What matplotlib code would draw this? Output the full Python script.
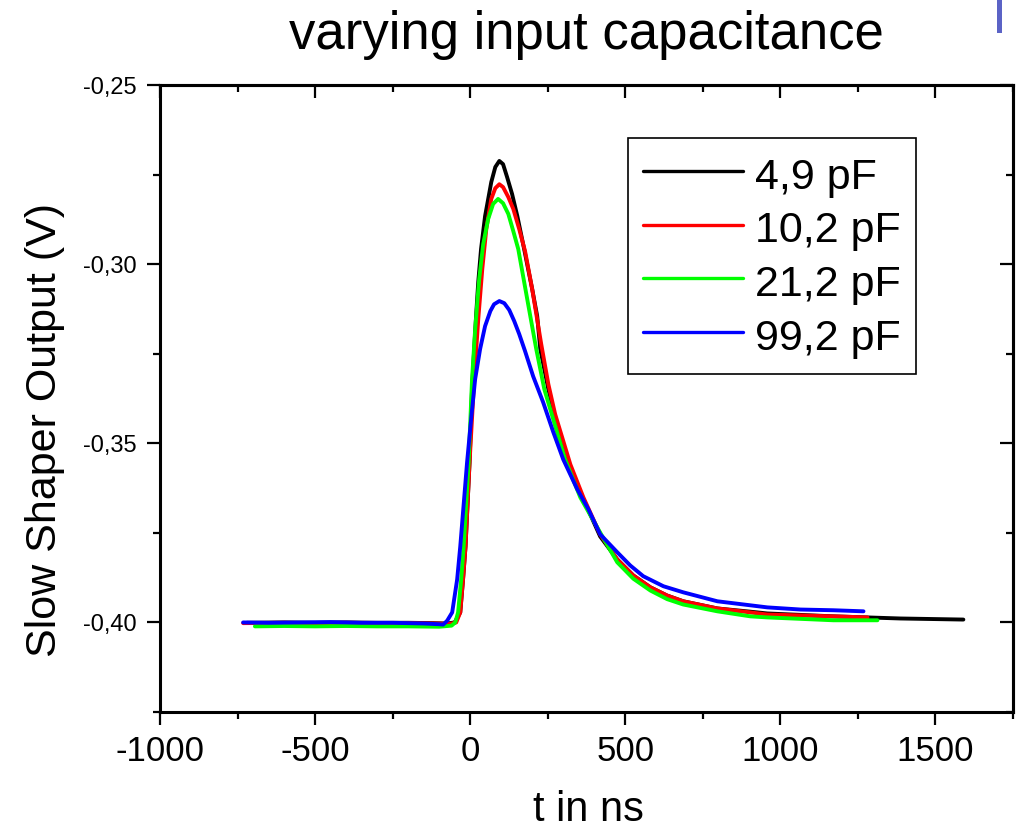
import matplotlib
matplotlib.use("Agg")
import matplotlib.pyplot as plt
from matplotlib.patches import Rectangle
from matplotlib.ticker import MultipleLocator, FuncFormatter

plt.rcParams['font.family'] = ['Liberation Sans', 'DejaVu Sans']
plt.rcParams['axes.unicode_minus'] = False

# t in ns, output in V
t_49 = [-720, -600, -500, -400, -300, -200, -120, -74, -50, -32, -23, -15, -2, 6, 13, 19,
        26, 35, 48, 68, 81, 94, 106, 119, 135, 152, 174, 200, 216, 226, 252, 277, 323, 365,
        419, 474, 526, 581, 635, 687, 797, 903, 958, 1171, 1387, 1590]
v_49 = [-0.4001, -0.4000, -0.4001, -0.4000, -0.4001, -0.4001, -0.4002, -0.4003, -0.4000,
        -0.3972, -0.3880, -0.3788, -0.3553, -0.3349, -0.3237, -0.3145, -0.3050, -0.2958,
        -0.2866, -0.2771, -0.2729, -0.2712, -0.2721, -0.2757, -0.2804, -0.2866, -0.2958,
        -0.3070, -0.3145, -0.3237, -0.3349, -0.3439, -0.3573, -0.3656, -0.3760, -0.3824,
        -0.3869, -0.3902, -0.3925, -0.3941, -0.3961, -0.3970, -0.3975, -0.3983, -0.3989,
        -0.3992]

t_102 = [-732, -600, -500, -400, -300, -200, -120, -65, -45, -32, -23, -15, -2, 13, 26, 39,
         52, 68, 81, 94, 106, 123, 139, 158, 177, 200, 229, 252, 274, 323, 365, 419, 474,
         526, 581, 635, 687, 797, 903, 958, 1171, 1281]
v_102 = [-0.4002, -0.4001, -0.4002, -0.4001, -0.4002, -0.4002, -0.4003, -0.4004, -0.4000,
         -0.3972, -0.3880, -0.3788, -0.3553, -0.3321, -0.3154, -0.3014, -0.2902, -0.2818,
         -0.2788, -0.2777, -0.2785, -0.2813, -0.2846, -0.2902, -0.2964, -0.3070, -0.3223,
         -0.3335, -0.3419, -0.3559, -0.3651, -0.3754, -0.3824, -0.3869, -0.3902, -0.3925,
         -0.3941, -0.3961, -0.3972, -0.3978, -0.3983, -0.3986]

t_212 = [-694, -600, -500, -400, -300, -200, -100, -60, -48, -39, -29, -21, -5, 6, 16, 29,
         42, 58, 74, 90, 106, 123, 139, 155, 184, 213, 239, 265, 306, 355, 419, 474, 526,
         581, 635, 687, 797, 903, 958, 1171, 1313]
v_212 = [-0.4011, -0.4010, -0.4011, -0.4010, -0.4011, -0.4011, -0.4012, -0.4009, -0.4000,
         -0.3972, -0.3880, -0.3788, -0.3553, -0.3321, -0.3182, -0.3042, -0.2944, -0.2874,
         -0.2832, -0.2818, -0.2830, -0.2860, -0.2908, -0.2958, -0.3098, -0.3237, -0.3349,
         -0.3425, -0.3545, -0.3651, -0.3749, -0.3832, -0.3878, -0.3911, -0.3935, -0.3950,
         -0.3969, -0.3983, -0.3986, -0.3994, -0.3994]

t_992 = [-732, -650, -550, -450, -350, -250, -150, -100, -87, -74, -58, -42, -32, -10, 3,
         16, 32, 48, 65, 77, 94, 110, 126, 142, 158, 177, 203, 235, 268, 300, 345, 381, 419,
         474, 516, 558, 623, 687, 797, 958, 1065, 1171, 1268]
v_992 = [-0.4000, -0.4001, -0.4000, -0.3999, -0.4001, -0.4001, -0.4003, -0.4005, -0.4006,
         -0.3995, -0.3972, -0.3880, -0.3788, -0.3553, -0.3433, -0.3321, -0.3237, -0.3173,
         -0.3131, -0.3112, -0.3103, -0.3109, -0.3128, -0.3159, -0.3195, -0.3243, -0.3313,
         -0.3385, -0.3469, -0.3545, -0.3628, -0.3684, -0.3754, -0.3804, -0.3841, -0.3871,
         -0.3899, -0.3916, -0.3941, -0.3958, -0.3964, -0.3966, -0.3969]

series = [("4,9 pF", t_49, v_49, "#000000"),
          ("10,2 pF", t_102, v_102, "#ff0000"),
          ("21,2 pF", t_212, v_212, "#00ff00"),
          ("99,2 pF", t_992, v_992, "#0000ff")]

fig = plt.figure(figsize=(10.19, 8.33), dpi=100)
ax = fig.add_axes([160/1019, 1-712/833, 853/1019, 627/833])

for lab, t, v, c in series:
    ax.plot(t, v, color=c, lw=2.8, label=lab, solid_joinstyle="round",
            solid_capstyle="round")

ax.set_xlim(-1000, 1750)
ax.set_ylim(-0.425, -0.25)
ax.xaxis.set_major_locator(MultipleLocator(500))
ax.xaxis.set_minor_locator(MultipleLocator(250))
ax.yaxis.set_major_locator(MultipleLocator(0.05))
ax.yaxis.set_minor_locator(MultipleLocator(0.025))
ax.yaxis.set_major_formatter(FuncFormatter(lambda v, p: f"{v:.2f}".replace(".", ",")))

for s in ax.spines.values():
    s.set_linewidth(2.2)
ax.tick_params(axis="both", which="both", direction="out", width=1.6, top=False, right=False)
ax.tick_params(which="major", length=9.5)
ax.tick_params(which="minor", length=5)
ax.tick_params(axis="x", labelsize=25, pad=7)
ax.tick_params(axis="y", labelsize=17, pad=7)

# top / right ticks point inward
sx = ax.secondary_xaxis("top")
sx.xaxis.set_major_locator(MultipleLocator(500))
sx.xaxis.set_minor_locator(MultipleLocator(250))
sy = ax.secondary_yaxis("right")
sy.yaxis.set_major_locator(MultipleLocator(0.05))
sy.yaxis.set_minor_locator(MultipleLocator(0.025))
for sa in (sx, sy):
    sa.tick_params(which="both", direction="in", width=1.6, labeltop=False, labelright=False)
    sa.tick_params(which="major", length=9.5)
    sa.tick_params(which="minor", length=5)
    for s in sa.spines.values():
        s.set_linewidth(2.2)

ax.set_title("varying input capacitance", fontsize=38, pad=26)
fig.text(45/1019, 1-430/833, "Slow Shaper Output (V)", rotation=90,
         fontsize=31, ha="center", va="center")
fig.text(588/1019, 1-821/833, "t in ns", fontsize=30, ha="center", va="baseline")

leg = ax.legend(loc="upper left", bbox_to_anchor=(0.5487, 0.9155), borderaxespad=0,
                fontsize=31, handlelength=2.33, handleheight=1.12, handletextpad=0.28,
                borderpad=0.35, labelspacing=0.214, fancybox=False, framealpha=1,
                edgecolor="black")
leg.get_frame().set_linewidth(1.2)
for ln in leg.get_lines():
    ln.set_linewidth(2.4)

fig.add_artist(Rectangle((997/1019, 1-33/833), 5/1019, 33/833,
                         transform=fig.transFigure, color="#5b63c6", lw=0))

fig.savefig("out.png", dpi=100)
